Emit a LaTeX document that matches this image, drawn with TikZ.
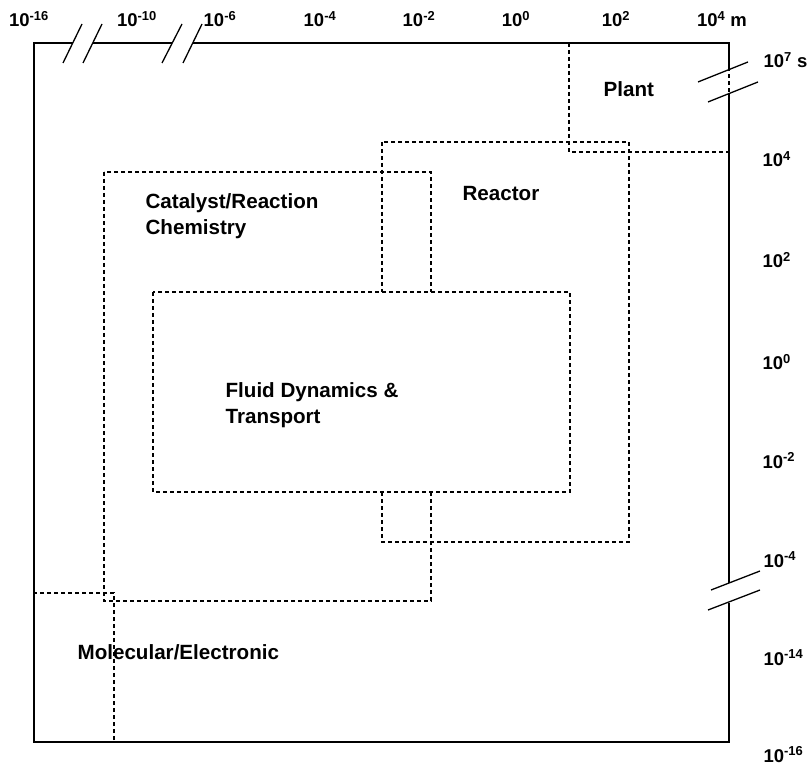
\documentclass[tikz,border=0pt]{standalone}
\usepackage{fontspec}
\setmainfont{Liberation Sans}
\usetikzlibrary{positioning}

\begin{document}
\begin{tikzpicture}[x=1pt, y=-1pt,
    style={line width=1.2pt},
    zone/.style={dash pattern=on 4pt off 3pt, line width=1.1pt},
    frame/.style={line width=1.3pt},
    brk/.style={line width=1.3pt},
    lbl/.style={inner sep=0pt, align=left, anchor=west,
      font=\fontsize{20.6}{25.5}\selectfont\bfseries},
    axlbl/.style={inner sep=0pt, font=\fontsize{18.5}{22}\selectfont\bfseries}
]
\useasboundingbox (0,0) rectangle (809,767);

  % Scale regions (dashed)
  \coordinate (plantNW) at (569,43);   \coordinate (plantSE) at (729,152);
  \coordinate (reacNW) at (382,142);   \coordinate (reacSE) at (629,542);
  \coordinate (catNW) at (104,172);    \coordinate (catSE) at (431,601);
  \coordinate (fluidNW) at (153,292);  \coordinate (fluidSE) at (570,492);
  \coordinate (molNW) at (34,593);     \coordinate (molSE) at (114,742);
  \draw[zone] (plantNW) rectangle (plantSE);
  \draw[zone] (reacNW) rectangle (reacSE);
  \draw[zone] (catNW) rectangle (catSE);
  \draw[zone] (molNW) rectangle (molSE);
  % fluid region covers the lines behind it
  \draw[zone, fill=white] (fluidNW) rectangle (fluidSE);

  \node[lbl] (plant) at (603,89) {Plant};
  \node[lbl] (reactor) at (462,194) {Reactor};
  \node[lbl] (catalyst) at (145,216) {Catalyst/Reaction\\Chemistry};
  \node[lbl] (fluid) at (225,405) {Fluid Dynamics \&\\Transport};
  \node[lbl] (molec) at (77,652) {Molecular/Electronic};

  % Outer frame with axis breaks
  \coordinate (tl) at (34,43);  \coordinate (tr) at (729,43);
  \coordinate (bl) at (34,742); \coordinate (br) at (729,742);
  \draw[frame] (73,43) -- (tl) -- (bl) -- (br) -- (729,603);
  \draw[frame] (93,43) -- (172,43);
  \draw[frame] (193,43) -- (tr) -- (729,70);
  \draw[frame] (729,94) -- (729,583);
  \draw[brk] (63,63) -- (82,24);   \draw[brk] (83,63) -- (102,24);
  \draw[brk] (162,63) -- (182,24); \draw[brk] (183,63) -- (202,24);
  \draw[brk] (698,82) -- (748,62); \draw[brk] (708,102) -- (758,82);
  \draw[brk] (711,590) -- (760,571); \draw[brk] (708,610) -- (760,590);

  % Length axis
  \node[axlbl, anchor=base] (m16) at (29,27) {10\textsuperscript{-16}};
  \node[axlbl, anchor=base] (m10) at (137,27) {10\textsuperscript{-10}};
  \node[axlbl, anchor=base] (m6) at (220,27) {10\textsuperscript{-6}};
  \node[axlbl, anchor=base] (m4) at (320,27) {10\textsuperscript{-4}};
  \node[axlbl, anchor=base] (m2) at (419,27) {10\textsuperscript{-2}};
  \node[axlbl, anchor=base] (p0) at (516,27) {10\textsuperscript{0}};
  \node[axlbl, anchor=base] (p2) at (616,27) {10\textsuperscript{2}};
  \node[axlbl, anchor=base] (p4) at (722,27) {10\textsuperscript{4} m};

  % Time axis
  \node[axlbl, anchor=base west] (s7) at (763,68) {10\textsuperscript{7} s};
  \node[axlbl, anchor=base west] (s4) at (762,167) {10\textsuperscript{4}};
  \node[axlbl, anchor=base west] (s2) at (762,268) {10\textsuperscript{2}};
  \node[axlbl, anchor=base west] (s0) at (762,370) {10\textsuperscript{0}};
  \node[axlbl, anchor=base west] (sm2) at (762,468) {10\textsuperscript{-2}};
  \node[axlbl, anchor=base west] (sm4) at (763,567) {10\textsuperscript{-4}};
  \node[axlbl, anchor=base west] (sm14) at (763,665) {10\textsuperscript{-14}};
  \node[axlbl, anchor=base west] (sm16) at (763,762) {10\textsuperscript{-16}};
\end{tikzpicture}
\end{document}
